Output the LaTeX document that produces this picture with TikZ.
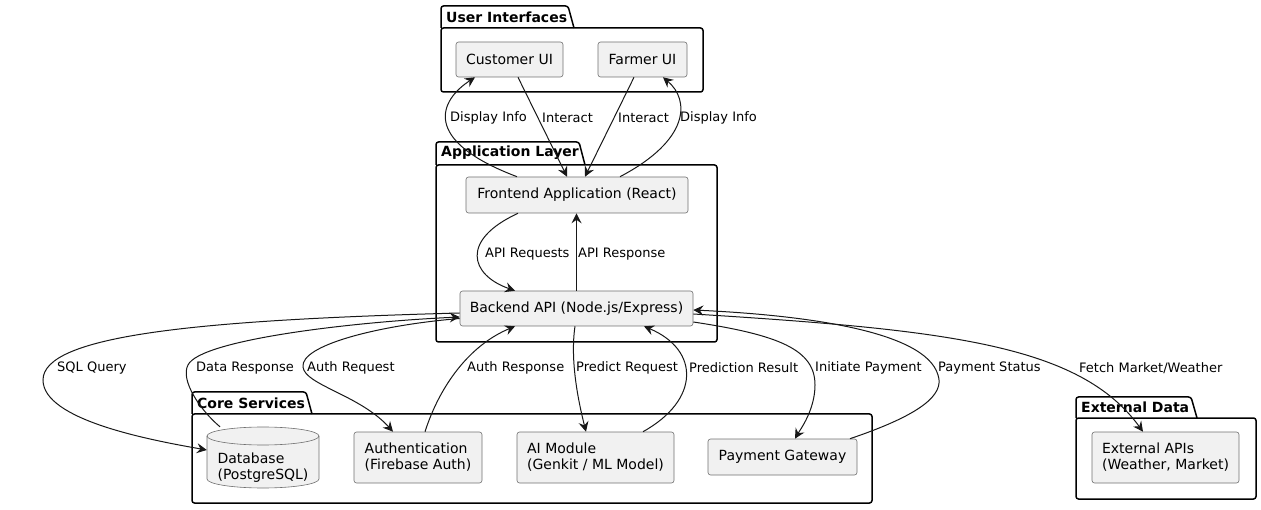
\documentclass[tikz,border=0pt]{standalone}
\usepackage{fontspec}
\setmainfont{DejaVu Sans}
\usetikzlibrary{arrows.meta}
\definecolor{boxfill}{HTML}{F1F1F1}
\definecolor{ln}{HTML}{181818}
\definecolor{boxline}{HTML}{707070}
\begin{document}
\begin{tikzpicture}[x=1pt,y=-1pt,
 box/.style={draw=boxline, line width=0.6pt, fill=boxfill, rounded corners=2.5pt, inner sep=0pt, align=left, font=\fontsize{14}{16}\selectfont},
 pkg/.style={draw=black, line width=1.5pt, rounded corners=2.5pt},
 pkgtitle/.style={anchor=west, inner sep=0pt, font=\bfseries\fontsize{14}{16}\selectfont},
 lbl/.style={anchor=west, inner sep=0pt, font=\fontsize{13}{15}\selectfont},
 conn/.style={draw=ln, line width=1pt, -{Stealth[length=10pt,width=10pt,inset=3.5pt]}},
]
\useasboundingbox (0,0) rectangle (1261,510);

% packages
\draw[pkg] (441,28) -- (441,6) -- (568,6) -- (574,28);
\draw[pkg] (441,28) rectangle (703,92);
\node[pkgtitle] (tUI) at (446,17) {User Interfaces};

\draw[pkg] (436,165) -- (436,142) -- (579,142) -- (585,165);
\draw[pkg] (436,165) rectangle (717,342);
\node[pkgtitle] (tAL) at (441,153) {Application Layer};

\draw[pkg] (192,414) -- (192,392) -- (306,392) -- (312,414);
\draw[pkg] (192,414) rectangle (872,503);
\node[pkgtitle] (tCS) at (197,403) {Core Services};

\draw[pkg] (1076,418) -- (1076,397) -- (1191,397) -- (1197,418);
\draw[pkg] (1076,418) rectangle (1256,499);
\node[pkgtitle] (tED) at (1081,407) {External Data};

% boxes
\node[box, minimum width=107pt, minimum height=35pt] (cust) at (509.5,59.5) {Customer UI};
\node[box, minimum width=89pt, minimum height=35pt] (farm) at (642.5,59.5) {Farmer UI};
\node[box, minimum width=222pt, minimum height=36pt] (front) at (577,195) {Frontend Application (React)};
\node[box, minimum width=233pt, minimum height=35pt] (back) at (576.5,308.5) {Backend API (Node.js/Express)};
\node[box, minimum width=128pt, minimum height=51pt] (auth) at (418,457.5) {Authentication\\(Firebase Auth)};
\node[box, minimum width=157pt, minimum height=51pt] (ai) at (595.5,457.5) {AI Module\\(Genkit / ML Model)};
\node[box, minimum width=149pt, minimum height=36pt] (pay) at (782.5,457) {Payment Gateway};
\node[box, minimum width=147pt, minimum height=51pt] (ext) at (1165.5,457.5) {External APIs\\(Weather, Market)};

% database cylinder
\fill[boxfill] (207,436) -- (207,479) arc[start angle=180,end angle=360,x radius=56pt,y radius=9pt] -- (319,436) arc[start angle=0,end angle=180,x radius=56pt,y radius=9pt] -- cycle;
\draw[boxline, line width=0.6pt] (207,436) -- (207,479) arc[start angle=180,end angle=360,x radius=56pt,y radius=9pt] -- (319,436);
\draw[boxline, line width=0.6pt] (263,436) ellipse[x radius=56pt,y radius=9pt];
\node[inner sep=0pt, minimum width=112pt, minimum height=61pt] (db) at (263,457.5) {};
\node[inner sep=0pt, align=left, font=\fontsize{14}{16}\selectfont] (dbt) at (263,467.5) {Database\\(PostgreSQL)};

% connectors
\draw[conn] ([xshift=-60pt]front.north) .. controls (420,140) and (440,100) .. ([xshift=-34.5pt]cust.south);
\draw[conn] ([xshift=8.5pt]cust.south) -- ([xshift=-10pt]front.north);
\draw[conn] ([xshift=-8.5pt]farm.south) -- ([xshift=8pt]front.north);
\draw[conn] ([xshift=43pt]front.north) .. controls (690,140) and (690,100) .. ([xshift=20.5pt]farm.south);

\draw[conn] ([xshift=-59pt]front.south) .. controls (460,240) and (470,275) .. ([xshift=-61.5pt]back.north);
\draw[conn] (back.north) -- (back.north |- front.south);

\draw[conn] ([yshift=-4.5pt]back.west) .. controls (200,320) and (43,335) .. (43,380) .. controls (43,420) and (150,440) .. ([yshift=7.5pt]db.west);
\draw[conn] ([xshift=-43pt]db.north) .. controls (200,410) and (180,380) .. (188,365) .. controls (200,340) and (350,322) .. ([yshift=-8.5pt]back.west);
\draw[conn] ([yshift=-10pt]back.west) .. controls (380,325) and (300,345) .. (303,367) .. controls (305,385) and (360,395) .. ([xshift=-25pt]auth.north);
\draw[conn] ([xshift=7pt]auth.north) .. controls (440,385) and (470,345) .. ([xshift=-61.5pt]back.south);
\draw[conn] ([xshift=-1.5pt]back.south) .. controls (570,360) and (578,400) .. ([xshift=-9.5pt]ai.north);
\draw[conn] ([xshift=47.5pt]ai.north) .. controls (700,400) and (700,350) .. ([xshift=67.5pt]back.south);
\draw[conn] ([yshift=-13.5pt]back.east) .. controls (780,335) and (815,350) .. (815,385) .. controls (815,410) and (800,430) .. ([xshift=12.5pt]pay.north);
\draw[conn] ([xshift=67.5pt]pay.north) .. controls (920,415) and (945,395) .. (938,375) .. controls (925,330) and (800,315) .. ([yshift=-1.5pt]back.east);
\draw[conn] ([yshift=-5.5pt]back.east) .. controls (950,330) and (1080,345) .. ([xshift=-22.5pt]ext.north);

% labels
\node[lbl] (l1) at (450,118) {Display Info};
\node[lbl] (l2) at (542,118) {Interact};
\node[lbl] (l3) at (618,118) {Interact};
\node[lbl] (l4) at (680,118) {Display Info};
\node[lbl] (l5) at (485,254) {API Requests};
\node[lbl] (l6) at (578,254) {API Response};
\node[lbl] (l7) at (57,368) {SQL Query};
\node[lbl] (l8) at (196,368) {Data Response};
\node[lbl] (l9) at (307,368) {Auth Request};
\node[lbl] (l10) at (467,368) {Auth Response};
\node[lbl] (l11) at (576,368) {Predict Request};
\node[lbl] (l12) at (689,368) {Prediction Result};
\node[lbl] (l13) at (815,368) {Initiate Payment};
\node[lbl] (l14) at (938,368) {Payment Status};
\node[lbl] (l15) at (1079,368) {Fetch Market/Weather};
\end{tikzpicture}
\end{document}
